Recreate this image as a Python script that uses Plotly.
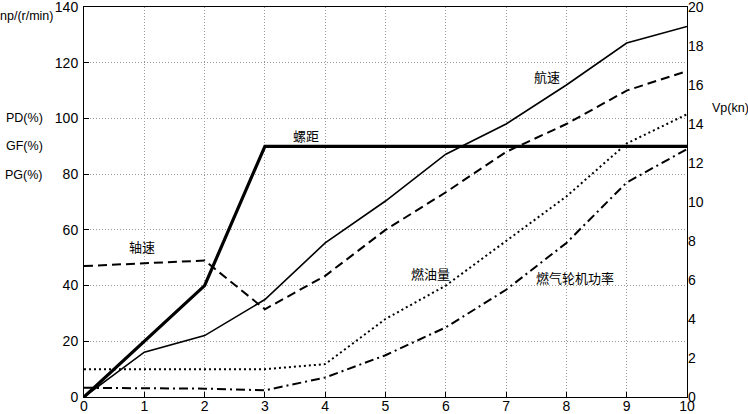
import plotly.graph_objects as go

x = list(range(11))

# left axis values (0-140)
pitch = [0, 20, 40, 90, 90, 90, 90, 90, 90, 90, 90]
shaft_speed = [47, 48, 49, 31.5, 43.5, 60, 73.5, 88, 98, 110, 117]
fuel = [10, 10, 10, 10, 11.8, 28, 40, 56, 72, 91, 101.5]
gt_power = [3.3, 3.2, 3.0, 2.4, 7, 15, 25, 38.5, 55.3, 77, 89]

# right axis values (knots, 0-20)
ship_speed = [0, 2.3, 3.15, 5.0, 7.9, 10.05, 12.45, 14.0, 16.0, 18.15, 19.0]

font = "Liberation Sans, Arial, sans-serif"
cjk = "Noto Sans CJK SC, sans-serif"

fig = go.Figure()
fig.add_trace(go.Scatter(x=x, y=fuel, mode="lines", line=dict(color="black", width=2, dash="2px,3px")))
fig.add_trace(go.Scatter(x=x, y=gt_power, mode="lines", line=dict(color="black", width=2, dash="9px,4px,2px,4px")))
fig.add_trace(go.Scatter(x=x, y=shaft_speed, mode="lines", line=dict(color="black", width=2, dash="9px,5px")))
fig.add_trace(go.Scatter(x=x, y=pitch, mode="lines", line=dict(color="black", width=3.2)))
fig.add_trace(go.Scatter(x=x, y=ship_speed, mode="lines", yaxis="y2", line=dict(color="black", width=1.6)))

axis_common = dict(
    showline=True, linecolor="black", linewidth=1, mirror=True,
    ticks="inside", ticklen=5, tickcolor="black",
    tickfont=dict(family=font, size=14, color="black"),
    gridcolor="#999", griddash="1px,2px", gridwidth=1, zeroline=False,
    automargin=False, ticklabeloverflow="allow",
)

fig.update_layout(
    width=748, height=414,
    margin=dict(l=84, r=61, t=7, b=17),
    plot_bgcolor="white", paper_bgcolor="white",
    showlegend=False,
    xaxis=dict(range=[0, 10], dtick=1, ticklabelstandoff=-4, **axis_common),
    yaxis=dict(range=[0, 140], dtick=20, ticklabelstandoff=2, **axis_common),
    yaxis2=dict(
        overlaying="y", side="right", range=[0, 20], dtick=2,
        showgrid=False, zeroline=False, showline=False,
        ticks="", automargin=False, ticklabeloverflow="allow",
        tickfont=dict(family=font, size=14, color="black"),
    ),
)

labels = [
    (3.68, 94, "螺距"), (7.68, 115, "航速"), (5.74, 44.5, "燃油量"),
    (8.15, 43, "燃气轮机功率"), (0.96, 54, "轴速"),
]
for lx, ly, t in labels:
    fig.add_annotation(x=lx, y=ly, text=t, showarrow=False,
                       font=dict(family=cjk, size=13, color="black"))

side = [
    (-0.048, 0.976, "np/(r/min)"), (-0.064, 0.716, "PD(%)"),
    (-0.064, 0.644, "GF(%)"), (-0.064, 0.57, "PG(%)"),
]
for px_, py_, t in side:
    fig.add_annotation(x=px_, y=py_, xref="paper", yref="paper", text=t,
                       showarrow=False, xanchor="right", yanchor="middle",
                       font=dict(family=font, size=12.5, color="black"))
fig.add_annotation(x=1.038, y=0.741, xref="paper", yref="paper", text="Vp(kn)",
                   showarrow=False, xanchor="left", yanchor="middle",
                   font=dict(family=font, size=12.5, color="black"))

fig.write_html("out.html", config={"displayModeBar": False},
               post_script="document.body.style.margin='0';")
